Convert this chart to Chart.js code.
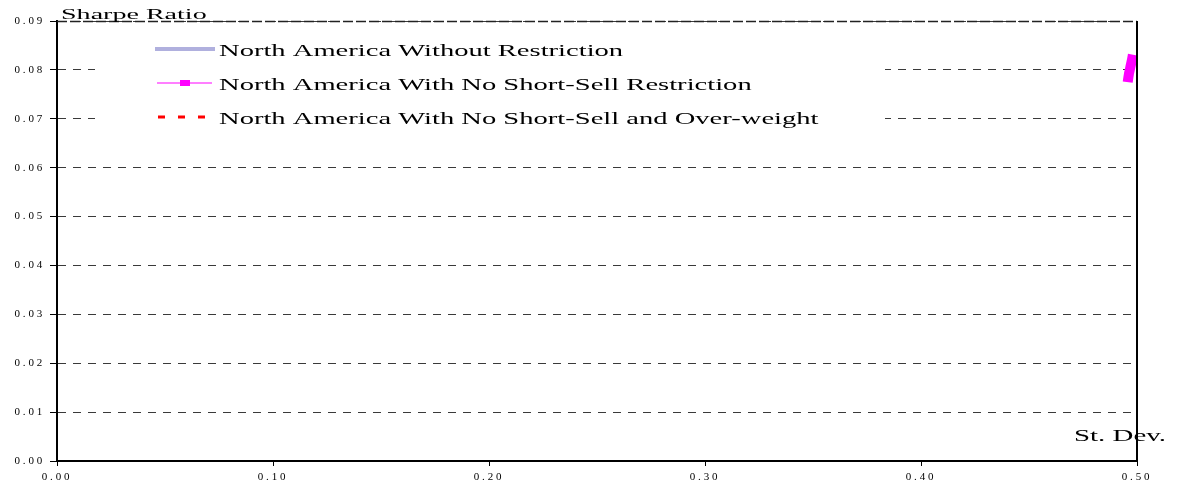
<!DOCTYPE html>
<html>
<head>
<meta charset="utf-8">
<script src="https://cdn.jsdelivr.net/npm/chart.js@4/dist/chart.umd.min.js"></script>
<style>
  html, body { margin: 0; padding: 0; background: #fff; }
  #wrap { width: 1177px; height: 489px; }
</style>
</head>
<body>
<div id="wrap"><canvas id="sharpeChart" width="1177" height="489"></canvas></div>
<script>
// ---------------- Daten ----------------
const seriesNames = [
    "North America Without Restriction",
    "North America With No Short-Sell Restriction",
    "North America With No Short-Sell and Over-weight"
];

// only the no-short-sell frontier is visible inside the 0..0.50 window
const noRestrictionStdDev = [];
const noRestrictionSharpe = [];

const noShortSellStdDev = [0.4957, 0.4962, 0.4969, 0.4976, 0.4981];
const noShortSellSharpe = [0.0775, 0.0790, 0.0805, 0.0819, 0.0831];

const overweightStdDev = [];
const overweightSharpe = [];

const xTicks = [0.00, 0.10, 0.20, 0.30, 0.40, 0.50];
const yTicks = [0.00, 0.01, 0.02, 0.03, 0.04, 0.05, 0.06, 0.07, 0.08, 0.09];

const yTitle = "Sharpe Ratio";
const xTitle = "St. Dev.";

const seriesColors = ["#B0B0DE", "#FF00FF", "#FF0000"];

function toPoints(xs, ys) {
    return xs.map((x, i) => ({ x: x, y: ys[i] }));
}

// text drawn wider, like the stretched original
function drawWideText(ctx, text, x, y, size, stretch) {
    ctx.save();
    ctx.font = size + "px 'Liberation Serif', 'Times New Roman', serif";
    ctx.textBaseline = "alphabetic";
    ctx.textAlign = "left";
    ctx.fillStyle = "#000";
    ctx.translate(x, y);
    ctx.scale(stretch, 1);
    ctx.fillText(text, 0, 0);
    ctx.restore();
}

const chartDecor = {
    id: "chartDecor",
    beforeDraw(chart) {
        chart.ctx.letterSpacing = "2.8px";
    },
    afterDatasetsDraw(chart) {
        const ctx = chart.ctx;
        const area = chart.chartArea;
        ctx.save();
        ctx.letterSpacing = "0px";

        // legend box inside the plot
        ctx.fillStyle = "#fff";
        ctx.fillRect(95, area.top + 2, 790, 114);

        // top line (denser dash)
        ctx.strokeStyle = "#222";
        ctx.lineWidth = 1.5;
        ctx.setLineDash([10, 3]);
        ctx.beginPath();
        ctx.moveTo(area.left, area.top + 0.5);
        ctx.lineTo(area.right, area.top + 0.5);
        ctx.stroke();
        ctx.setLineDash([]);

        // right frame
        ctx.strokeStyle = "#000";
        ctx.lineWidth = 2;
        ctx.beginPath();
        ctx.moveTo(area.right, area.top);
        ctx.lineTo(area.right, area.bottom);
        ctx.stroke();

        // legend samples
        const rowY = [49, 83, 117];
        const textY = [56, 90, 124];

        ctx.strokeStyle = seriesColors[0];
        ctx.lineWidth = 4;
        ctx.beginPath();
        ctx.moveTo(155, rowY[0]);
        ctx.lineTo(215, rowY[0]);
        ctx.stroke();

        ctx.strokeStyle = seriesColors[1];
        ctx.lineWidth = 1.2;
        ctx.beginPath();
        ctx.moveTo(157, rowY[1]);
        ctx.lineTo(212, rowY[1]);
        ctx.stroke();
        ctx.fillStyle = seriesColors[1];
        ctx.fillRect(180, rowY[1] - 3, 10, 6);

        ctx.strokeStyle = seriesColors[2];
        ctx.lineWidth = 3;
        ctx.setLineDash([7, 13]);
        ctx.beginPath();
        ctx.moveTo(158, rowY[2]);
        ctx.lineTo(210, rowY[2]);
        ctx.stroke();
        ctx.setLineDash([]);

        seriesNames.forEach((name, i) => {
            drawWideText(ctx, name, 219, textY[i], 17, 1.68);
        });

        drawWideText(ctx, yTitle, 61, 19, 15, 1.87);
        drawWideText(ctx, xTitle, 1074, 441, 17, 1.70);
        ctx.restore();
    }
};

const ctx = document.getElementById("sharpeChart").getContext("2d");

new Chart(ctx, {
    type: "line",
    data: {
        datasets: [
            {
                label: seriesNames[0],
                data: toPoints(noRestrictionStdDev, noRestrictionSharpe),
                borderColor: seriesColors[0],
                borderWidth: 4,
                pointRadius: 0
            },
            {
                label: seriesNames[1],
                data: toPoints(noShortSellStdDev, noShortSellSharpe),
                borderColor: seriesColors[1],
                backgroundColor: seriesColors[1],
                borderWidth: 10,
                borderCapStyle: "butt",
                borderJoinStyle: "round",
                pointRadius: 0,
                tension: 0.2,
                clip: 0
            },
            {
                label: seriesNames[2],
                data: toPoints(overweightStdDev, overweightSharpe),
                borderColor: seriesColors[2],
                borderWidth: 3,
                borderDash: [7, 13],
                pointRadius: 0
            }
        ]
    },
    options: {
        responsive: false,
        animation: false,
        devicePixelRatio: 1,
        layout: { padding: { top: 21, right: 40, left: 0, bottom: 0 } },
        plugins: {
            legend: { display: false },
            tooltip: { enabled: false }
        },
        scales: {
            x: {
                type: "linear",
                min: 0,
                max: 0.5,
                afterBuildTicks: (scale) => { scale.ticks = xTicks.map(v => ({ value: v })); },
                afterFit: (scale) => { scale.height = 28; },
                ticks: {
                    color: "#000",
                    padding: 5,
                    maxRotation: 0,
                    font: { family: "'Liberation Serif', serif", size: 11 },
                    callback: (v) => Number(v).toFixed(2)
                },
                grid: {
                    drawOnChartArea: false,
                    drawTicks: true,
                    tickLength: 5,
                    color: "#000"
                },
                border: { display: true, color: "#000", width: 2 }
            },
            y: {
                type: "linear",
                min: 0,
                max: 0.09,
                afterBuildTicks: (scale) => { scale.ticks = yTicks.map(v => ({ value: v })); },
                afterFit: (scale) => { scale.width = 57; },
                ticks: {
                    color: "#000",
                    padding: 5,
                    font: { family: "'Liberation Serif', serif", size: 11 },
                    callback: (v) => Number(v).toFixed(2)
                },
                grid: {
                    color: "#3a3a3a",
                    lineWidth: 1,
                    drawTicks: true,
                    tickLength: 7,
                    tickColor: "#000",
                    tickBorderDash: []
                },
                border: { display: true, color: "#000", width: 2, dash: [8, 7] }
            }
        }
    },
    plugins: [chartDecor]
});
</script>
</body>
</html>
